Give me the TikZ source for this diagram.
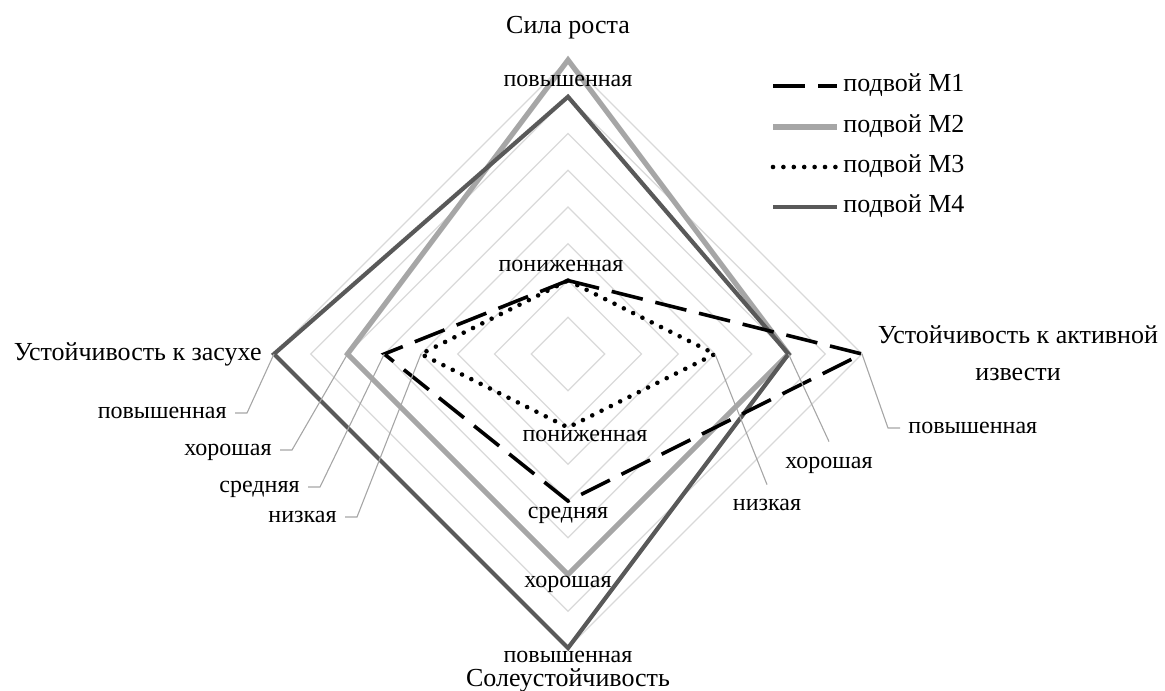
\documentclass[tikz,border=0pt]{standalone}
\usepackage{fontspec}
\setmainfont{Liberation Serif}
\usetikzlibrary{positioning,calc}

\definecolor{gridgray}{HTML}{D9D9D9}
\definecolor{lightser}{HTML}{A6A6A6}
\definecolor{darkser}{HTML}{595959}
\definecolor{leadgray}{HTML}{A6A6A6}

\newcommand{\ringstep}{36.75}
% style, name, top, right, bottom, left
\newcommand{\radarline}[6]{%
  \draw[#1] ($(c)+(0,-#3*\ringstep)$) coordinate (#2t)
    -- ($(c)+(#4*\ringstep,0)$) coordinate (#2r)
    -- ($(c)+(0,#5*\ringstep)$) coordinate (#2b)
    -- ($(c)+(-#6*\ringstep,0)$) coordinate (#2l) -- cycle;}

\begin{document}
\begin{tikzpicture}[x=0.5pt, y=-0.5pt,
    radar grid/.style={draw=gridgray, line width=0.6pt},
    series m1/.style={draw=black, line width=1.8pt, dash pattern=on 16pt off 6.5pt},
    series m2/.style={draw=lightser, line width=2.6pt},
    series m3/.style={draw=black, line width=2.3pt, line cap=round, dash pattern=on 0pt off 5.2pt},
    series m4/.style={draw=darkser, line width=2.1pt},
    axis label/.style={font=\fontsize{13}{18.5}\selectfont, align=center, inner sep=0pt},
    value label/.style={font=\fontsize{12}{14}\selectfont, inner sep=0pt, text height=0.75em, text depth=0.25em},
    legend text/.style={font=\fontsize{13}{15}\selectfont, anchor=west, inner sep=0pt, text height=0.75em, text depth=0.25em},
    leader/.style={draw=leadgray, line width=0.55pt}]

    \useasboundingbox (0,0) rectangle (1165,690);
    \coordinate (c) at (568,354);

    \foreach \k in {1,...,8}
        \draw[radar grid] (c) ++(0,-\k*\ringstep) -- ++(\k*\ringstep,\k*\ringstep)
            -- ++(-\k*\ringstep,\k*\ringstep) -- ++(-\k*\ringstep,-\k*\ringstep) -- cycle;

    \radarline{series m2}{mtwo}{8}{6}{6}{6}
    \radarline{series m4}{mfour}{7}{6}{8}{8}
    \radarline{series m1}{mone}{2}{8}{4}{5}
    \radarline{series m3}{mthree}{2}{4}{2}{4}

    % axis titles
    \node[axis label] (growth) at (568,28) {Сила роста};
    \node[axis label] (lime) at (1018,353) {Устойчивость к активной\\извести};
    \node[axis label] (salt) at (568,680) {Солеустойчивость};
    \node[axis label, anchor=east] (drought) at (262,354) {Устойчивость к засухе};

    % value labels
    \node[value label] (tophigh) at (568,82) {повышенная};
    \node[value label] (toplow) at (561,266) {пониженная};
    \node[value label] (botlow) at (585,436) {пониженная};
    \node[value label] (botmid) at (568,513) {средняя};
    \node[value label] (botgood) at (568,582) {хорошая};
    \node[value label] (bothigh) at (568,657) {повышенная};

    \node[value label, anchor=east] (lefthigh) at (227,413) {повышенная};
    \node[value label, anchor=east] (leftgood) at (272,450) {хорошая};
    \node[value label, anchor=east] (leftmid) at (300,487) {средняя};
    \node[value label, anchor=east] (leftlow) at (337,517) {низкая};

    \node[value label, anchor=west] (righthigh) at (908,428) {повышенная};
    \node[value label] (rightgood) at (829,463) {хорошая};
    \node[value label] (rightlow) at (767,505) {низкая};

    \draw[leader] ([xshift=4pt]lefthigh.east) -- ++(12,0) -- (mfourl);
    \draw[leader] ([xshift=4pt]leftgood.east) -- ++(12,0) -- (mtwol);
    \draw[leader] ([xshift=4pt]leftmid.east) -- ++(12,0) -- (monel);
    \draw[leader] ([xshift=4pt]leftlow.east) -- ++(12,0) -- (mthreel);
    \draw[leader] ([xshift=-4pt]righthigh.west) -- ++(-12,0) -- (moner);
    \draw[leader] (mtwor) -- ([yshift=5.5pt]rightgood.north);
    \draw[leader] (mthreer) -- ([yshift=5pt]rightlow.north);

    % legend
    \node[legend text] (leg1) at (843,86) {подвой M1};
    \node[legend text] (leg2) at (843,127) {подвой M2};
    \node[legend text] (leg3) at (843,167) {подвой M3};
    \node[legend text] (leg4) at (843,207) {подвой M4};
    \draw[series m1] ([xshift=-35pt]leg1.west) -- ([xshift=-3pt]leg1.west);
    \draw[series m2] ([xshift=-35pt]leg2.west) -- ([xshift=-3pt]leg2.west);
    \draw[series m3] ([xshift=-35pt]leg3.west) -- ([xshift=-3pt]leg3.west);
    \draw[series m4] ([xshift=-35pt]leg4.west) -- ([xshift=-3pt]leg4.west);
\end{tikzpicture}
\end{document}
